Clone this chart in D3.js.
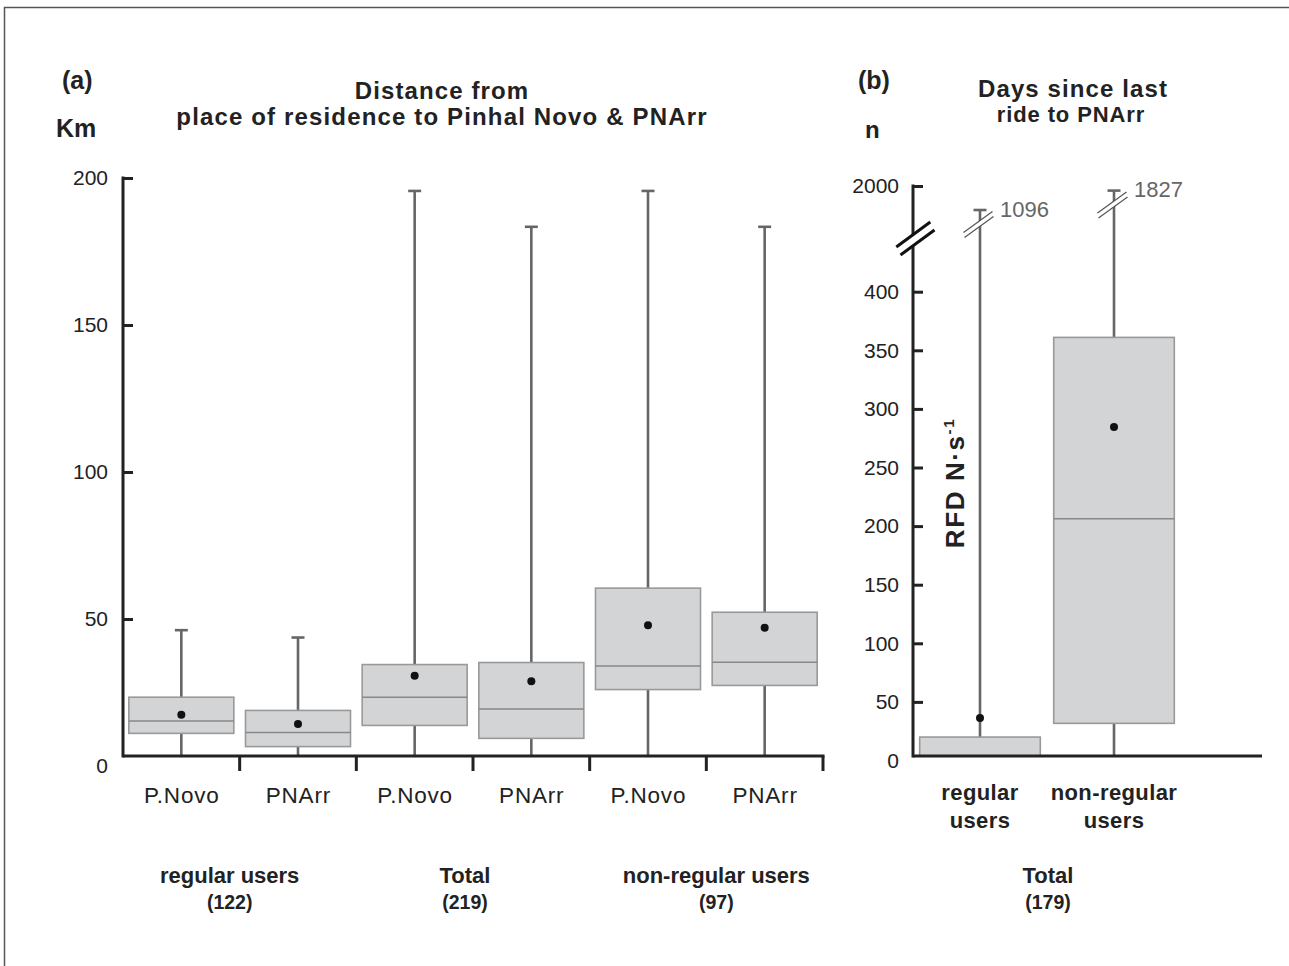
<!DOCTYPE html>
<html>
<head>
<meta charset="utf-8">
<script src="https://cdn.jsdelivr.net/npm/d3@7"></script>
<style>
  body { margin: 0; background: #fff; }
  text { font-family: "Liberation Sans", Arial, sans-serif; fill: #222; }
</style>
</head>
<body>
<script>
// ---- panel (a): distance (km) ----
var sitesA  = ["P.Novo", "PNArr", "P.Novo", "PNArr", "P.Novo", "PNArr"];
var groupsA = ["regular users", "Total", "non-regular users"];
var countsA = ["(122)", "(219)", "(97)"];
var lowA  = [3.4, 3.4, 3.4, 3.4, 3.4, 3.4];
var q1A   = [11.1, 6.6, 13.8, 9.4, 26.0, 27.4];
var medA  = [15.3, 11.4, 23.4, 19.4, 34.0, 35.3];
var q3A   = [23.4, 18.9, 34.5, 35.2, 60.5, 52.3];
var highA = [46.2, 43.7, 195.6, 183.4, 195.6, 183.4];
var meanA = [17.4, 14.3, 30.7, 28.8, 47.9, 47.0];
var ticksA = [0, 50, 100, 150, 200];

// ---- panel (b): days since last ride ----
var catsB  = [["regular", "users"], ["non-regular", "users"]];
var lowB   = [3.8, 3.8];
var q1B    = [3.8, 31.7];
var medB   = [3.8, 206.3];
var q3B    = [20, 361];
var highB  = [1096, 1827];
var meanB  = [36.3, 284.6];
var ticksB = [0, 50, 100, 150, 200, 250, 300, 350, 400];
var topTickB = 2000;

var W = 1289, H = 966;
var FONT = "'Liberation Sans', Arial, sans-serif";
var svg = d3.select("body").append("svg")
  .attr("width", W)
  .attr("height", H);

// outer frame (only top/left edges visible)
svg.append("rect")
  .attr("x", 4.5).attr("y", 7.5)
  .attr("width", 1400).attr("height", 1000)
  .attr("fill", "none").attr("stroke", "#555").attr("stroke-width", 1.5);

var boxFill = "#d3d4d6", boxStroke = "#999", whisk = "#666", axisCol = "#222";

function drawBoxes(g, n, x, bw, y, low, q1, med, q3, high, mean) {
  var idx = d3.range(n);
  var cx = function (i) { return x(i) + bw / 2; };
  var boxW = bw * 0.9;

  g.selectAll(".whisker").data(idx).enter().append("line")
    .attr("x1", cx).attr("x2", cx)
    .attr("y1", function (i) { return y(low[i]); })
    .attr("y2", function (i) { return y(high[i]); })
    .attr("stroke", whisk).attr("stroke-width", 2.6);

  g.selectAll(".cap").data(idx).enter().append("line")
    .attr("x1", function (i) { return cx(i) - 6.5; })
    .attr("x2", function (i) { return cx(i) + 6.5; })
    .attr("y1", function (i) { return y(high[i]); })
    .attr("y2", function (i) { return y(high[i]); })
    .attr("stroke", whisk).attr("stroke-width", 2.6);

  g.selectAll(".box").data(idx).enter().append("rect")
    .attr("x", function (i) { return cx(i) - boxW / 2; })
    .attr("y", function (i) { return y(q3[i]); })
    .attr("width", boxW)
    .attr("height", function (i) { return y(q1[i]) - y(q3[i]); })
    .attr("fill", boxFill).attr("stroke", boxStroke).attr("stroke-width", 1.6);

  g.selectAll(".median").data(idx).enter().append("line")
    .attr("x1", function (i) { return cx(i) - boxW / 2; })
    .attr("x2", function (i) { return cx(i) + boxW / 2; })
    .attr("y1", function (i) { return y(med[i]); })
    .attr("y2", function (i) { return y(med[i]); })
    .attr("stroke", "#888").attr("stroke-width", 1.6);

  g.selectAll(".mean").data(idx).enter().append("circle")
    .attr("cx", cx)
    .attr("cy", function (i) { return y(mean[i]); })
    .attr("r", 4)
    .attr("fill", "#111");
}

function styleTicks(axisG) {
  axisG.select(".domain").remove();
  axisG.selectAll(".tick line").attr("stroke", axisCol).attr("stroke-width", 3)
    .filter(function (d) { return d === 0; }).remove();
  axisG.selectAll(".tick text").attr("font-size", 21).attr("fill", "#222")
    .style("font-family", FONT);
}

function label(x, y, txt, size, bold, ls) {
  return svg.append("text").attr("x", x).attr("y", y)
    .attr("text-anchor", "middle")
    .attr("font-size", size)
    .attr("font-weight", bold ? "bold" : "normal")
    .attr("letter-spacing", ls || 0)
    .text(txt);
}

// ================= panel (a) =================
var xA = d3.scaleBand().domain(d3.range(sitesA.length)).range([123, 823]);
var yA = d3.scaleLinear().domain([0, 200]).range([766, 178]);
var bwA = xA.bandwidth();
var floorA = yA(0) - 10;

var gA = svg.append("g");
drawBoxes(gA, sitesA.length, xA, bwA, yA, lowA, q1A, medA, q3A, highA, meanA);

styleTicks(gA.append("g")
  .attr("transform", "translate(123,0)")
  .call(d3.axisLeft(yA).tickValues(ticksA).tickSizeInner(-10).tickSizeOuter(0).tickPadding(15)));

gA.append("line")
  .attr("x1", 123).attr("x2", 123).attr("y1", yA(200) - 1.5).attr("y2", floorA + 1.5)
  .attr("stroke", axisCol).attr("stroke-width", 3);
gA.append("line")
  .attr("x1", 123).attr("x2", xA.range()[1] + 1.5).attr("y1", floorA).attr("y2", floorA)
  .attr("stroke", axisCol).attr("stroke-width", 3);
gA.selectAll(".xtick").data(d3.range(sitesA.length)).enter().append("line")
  .attr("x1", function (i) { return xA(i) + bwA; })
  .attr("x2", function (i) { return xA(i) + bwA; })
  .attr("y1", floorA).attr("y2", floorA + 15)
  .attr("stroke", axisCol).attr("stroke-width", 3);

sitesA.forEach(function (d, i) {
  label(xA(i) + bwA / 2 + 0.4, 803, d, 22.5, false, 0.8);
});

var nudgeA = [-10, -8, 10];
groupsA.forEach(function (d, i) {
  var gx = xA(2 * i) + bwA + nudgeA[i];
  label(gx, 883, d, 22, true, 0);
  label(gx, 909, countsA[i], 19.5, true, 0);
});

svg.append("text").attr("x", 62).attr("y", 89).attr("font-size", 25).attr("font-weight", "bold").text("(a)");
svg.append("text").attr("x", 56).attr("y", 137).attr("font-size", 25).attr("font-weight", "bold").text("Km");
label(442, 99, "Distance from", 24, true, 1.1);
label(442, 125, "place of residence to Pinhal Novo & PNArr", 24, true, 1.15);

// ================= panel (b) =================
var xB = d3.scaleBand().domain(d3.range(catsB.length)).range([913, 1181]);
var bwB = xB.bandwidth();
var yBlow = d3.scaleLinear().domain([0, 400]).range([760.5, 291.7]);
var yBup = d3.scaleLinear().domain([400, 2000]).range([228.5, 186]);
var yB = function (v) { return v <= 400 ? yBlow(v) : yBup(v); };
var floorB = yBlow(0) - 4.5;

var gB = svg.append("g");
drawBoxes(gB, catsB.length, xB, bwB, yB, lowB, q1B, medB, q3B, highB, meanB);

styleTicks(gB.append("g")
  .attr("transform", "translate(913,0)")
  .call(d3.axisLeft(yBlow).tickValues(ticksB).tickSizeInner(-10).tickSizeOuter(0).tickPadding(14)));
styleTicks(gB.append("g")
  .attr("transform", "translate(913,0)")
  .call(d3.axisLeft(yBup).tickValues([topTickB]).tickFormat(d3.format("d"))
    .tickSizeInner(-10).tickSizeOuter(0).tickPadding(14)));

gB.append("line")
  .attr("x1", 913).attr("x2", 913).attr("y1", yBup(topTickB) - 1.5).attr("y2", floorB + 1.5)
  .attr("stroke", axisCol).attr("stroke-width", 3);
gB.append("line")
  .attr("x1", 913).attr("x2", 1262).attr("y1", floorB).attr("y2", floorB)
  .attr("stroke", axisCol).attr("stroke-width", 3);

// break marks: a pair of parallel slashes with a white gap between
function breakMark(g, cx, cy, hx, hy, ox, oy, col, sw) {
  g.append("path")
    .attr("d", "M" + (cx - hx - ox) + "," + (cy - hy - oy) +
               "L" + (cx + hx - ox) + "," + (cy + hy - oy) +
               "L" + (cx + hx + ox) + "," + (cy + hy + oy) +
               "L" + (cx - hx + ox) + "," + (cy - hy + oy) + "Z")
    .attr("fill", "#fff");
  [-1, 1].forEach(function (s) {
    g.append("line")
      .attr("x1", cx - hx + s * ox).attr("y1", cy - hy + s * oy)
      .attr("x2", cx + hx + s * ox).attr("y2", cy + hy + s * oy)
      .attr("stroke", col).attr("stroke-width", sw);
  });
}
breakMark(gB, 915.4, yBup(400) + 10, 17, -12.5, 2.1, 4, "#111", 3);
highB.forEach(function (v, i) {
  var cx = xB(i) + bwB / 2;
  breakMark(gB, cx - 1.5, yB(v) + 14.5, 14.5, -10.5, 0.5, 2.5, "#555", 1.2);
  gB.append("text")
    .attr("x", cx + 20).attr("y", yB(v) - 1).attr("dy", "0.35em")
    .attr("font-size", 22).style("fill", "#666")
    .text(v);
});

catsB.forEach(function (d, i) {
  var cx = xB(i) + bwB / 2;
  label(cx, 800, d[0], 22, true, 0.4);
  label(cx, 828, d[1], 22, true, 0.4);
});

label(1048, 883, "Total", 22, true, 0);
label(1048, 909, "(179)", 19.5, true, 0);

svg.append("text").attr("x", 858).attr("y", 89).attr("font-size", 25).attr("font-weight", "bold").text("(b)");
svg.append("text").attr("x", 865).attr("y", 138).attr("font-size", 24).attr("font-weight", "bold").text("n");
label(1073, 97, "Days since last", 24, true, 1.1);
label(1071, 122, "ride to PNArr", 22, true, 0.9);

var rfd = svg.append("text")
  .attr("transform", "translate(964,483) rotate(-90)")
  .attr("text-anchor", "middle")
  .attr("letter-spacing", 1.6)
  .attr("font-size", 26).attr("font-weight", "bold");
rfd.append("tspan").text("RFD N\u00b7s");
rfd.append("tspan").attr("font-size", 15).attr("dy", -10).text("-1");
</script>
</body>
</html>
